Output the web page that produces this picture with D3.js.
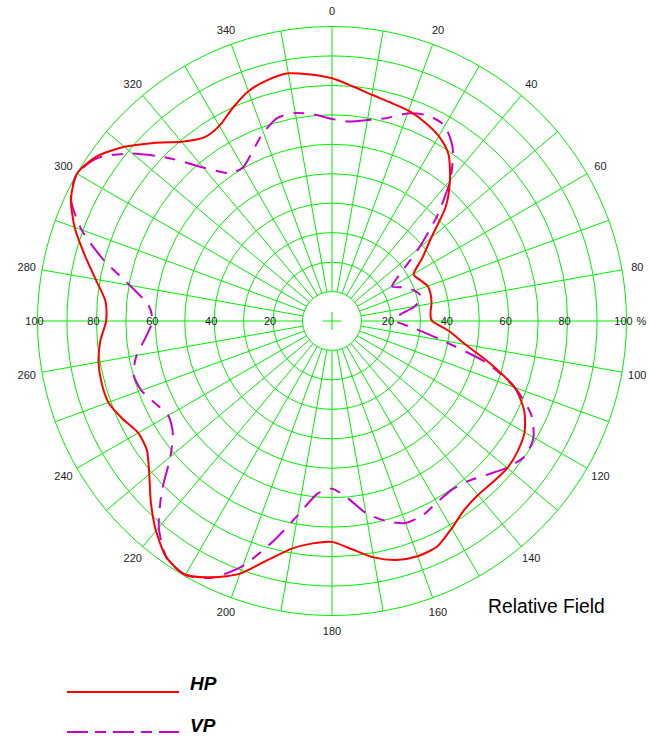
<!DOCTYPE html>
<html>
<head>
<meta charset="utf-8">
<script src="https://cdn.jsdelivr.net/npm/d3@7"></script>
<style>
  html, body { margin: 0; padding: 0; background: #fff; }
  svg { display: block; font-family: "Liberation Sans", Arial, sans-serif; }
</style>
</head>
<body>
<div id="chart"></div>
<script>
// 方位角（度，顺时针，0 在正上方）
const angles = [0, 5, 10, 15, 20, 25, 30, 35, 40, 45, 50, 55, 60, 65, 70, 75, 80, 85,
  90, 95, 100, 105, 110, 115, 120, 125, 130, 135, 140, 145, 150, 155, 160, 165, 170, 175,
  180, 185, 190, 195, 200, 205, 210, 215, 220, 225, 230, 235, 240, 245, 250, 255, 260, 265,
  270, 275, 280, 285, 290, 295, 300, 305, 310, 315, 320, 325, 330, 335, 340, 345, 350, 355];

// 水平极化 HP（相对场强 %）
const hpValues = [82.4, 80, 78, 76.8, 76, 74.5, 72.5, 69, 62.3, 54.5, 44, 37.5, 32, 33, 34.6, 34.7, 34.3, 33.6,
  34, 40, 46, 55.5, 66, 72, 75.5, 77, 77.7, 77.3, 77.1, 78.3, 81.3, 84.5, 85, 84, 81.5, 77.8,
  75, 75.8, 78.5, 84, 91.3, 96, 99.5, 98, 93, 87, 81, 76.7, 76, 78.5, 80.8, 81, 80.5, 79,
  76.7, 77.2, 81.5, 87, 93, 97.8, 100, 97.5, 92, 85.5, 79.5, 76, 76.5, 79.8, 83, 84.7, 85.4, 84];

// 垂直极化 VP（相对场强 %）
const vpValues = [68.6, 68, 69.3, 71.3, 75, 77, 76.5, 71.5, 62.5, 50.5, 38.5, 28.6, 23.5, 27, 30, 31.5, 28.5, 23,
  21.5, 28, 38, 54, 66, 74.5, 79, 80, 77.5, 74, 71.2, 70.3, 71.2, 72.8, 73, 70.3, 66.2, 60.3,
  57, 59, 67, 77.5, 88.5, 96.2, 99.5, 98, 91.5, 81.7, 71.6, 66, 64.2, 66.2, 68.9, 69.8, 67.4, 63.5,
  61, 62.6, 69.7, 80.3, 90.5, 97.8, 100, 96.7, 88.5, 78.2, 68, 61.3, 60.3, 63.7, 68.1, 71.4, 71.7, 70.4];

// 网格与刻度
const ringValues = [10, 20, 30, 40, 50, 60, 70, 80, 90, 100];
const radialLabels = [20, 40, 60, 80, 100];
const spokeAngles = d3.range(0, 360, 10);
const angleLabels = d3.range(0, 360, 20);

const seriesNames = ['HP', 'VP'];

const width = 651, height = 738;
const cx = 332, cy = 321;
const R = 294.5;

const svg = d3.select('#chart').append('svg')
  .attr('width', width)
  .attr('height', height);

const r = d3.scaleLinear().domain([0, 100]).range([0, R]);
const rad = d => d * Math.PI / 180;

const g = svg.append('g').attr('transform', `translate(${cx},${cy})`);

// 放射线
g.selectAll('line.spoke')
  .data(spokeAngles)
  .enter().append('line')
  .attr('class', 'spoke')
  .attr('x1', d => r(10) * Math.sin(rad(d)))
  .attr('y1', d => -r(10) * Math.cos(rad(d)))
  .attr('x2', d => r(100) * Math.sin(rad(d)))
  .attr('y2', d => -r(100) * Math.cos(rad(d)))
  .attr('stroke', '#00f000')
  .attr('stroke-width', 1);

// 同心圆
g.selectAll('circle.ring')
  .data(ringValues)
  .enter().append('circle')
  .attr('class', 'ring')
  .attr('r', d => r(d))
  .attr('fill', d => d === 10 ? '#fff' : 'none')
  .attr('stroke', '#00f000')
  .attr('stroke-width', 1);

// 中心十字
g.append('line').attr('x1', -9).attr('x2', 9).attr('y1', 0).attr('y2', 0)
  .attr('stroke', '#00f000');
g.append('line').attr('x1', 0).attr('x2', 0).attr('y1', -9).attr('y2', 9)
  .attr('stroke', '#00f000');

// 径向刻度标签（左右两侧）
const tickFont = 11;
[-1, 1].forEach(side => {
  g.selectAll(null)
    .data(radialLabels)
    .enter().append('text')
    .attr('x', d => side * r(d) - 3)
    .attr('y', 4)
    .attr('text-anchor', 'middle')
    .style('font-size', tickFont + 'px')
    .style('fill', '#222')
    .text(d => d);
});
g.append('text')
  .attr('x', r(100) + 10)
  .attr('y', 4)
  .style('font-size', tickFont + 'px')
  .style('fill', '#222')
  .text('%');

// 角度标签
g.selectAll('text.ang')
  .data(angleLabels)
  .enter().append('text')
  .attr('class', 'ang')
  .attr('x', d => 310 * Math.sin(rad(d)))
  .attr('y', d => -310 * Math.cos(rad(d)) + 4)
  .attr('text-anchor', 'middle')
  .style('font-size', tickFont + 'px')
  .style('fill', '#222')
  .text(d => d);

// 曲线
const line = d3.lineRadial()
  .angle(d => rad(d[0]))
  .radius(d => r(d[1]))
  .curve(d3.curveCardinalClosed.tension(0.3));

g.append('path')
  .datum(d3.zip(angles, vpValues))
  .attr('d', line)
  .attr('fill', 'none')
  .attr('stroke', '#cc00cc')
  .attr('stroke-width', 2)
  .attr('stroke-dasharray', '22,10,11,10');

g.append('path')
  .datum(d3.zip(angles, hpValues))
  .attr('d', line)
  .attr('fill', 'none')
  .attr('stroke', '#ff0000')
  .attr('stroke-width', 2);

// 标题
svg.append('text')
  .attr('x', 488)
  .attr('y', 613)
  .style('font-size', '19.3px')
  .style('fill', '#000')
  .text('Relative Field');

// 图例
const legend = [
  { name: seriesNames[0], color: '#ff0000', dash: null, y: 692, ty: 690 },
  { name: seriesNames[1], color: '#cc00cc', dash: '21,7,11,7', y: 732, ty: 732 }
];
legend.forEach(l => {
  svg.append('line')
    .attr('x1', 67).attr('x2', 179)
    .attr('y1', l.y).attr('y2', l.y)
    .attr('stroke', l.color)
    .attr('stroke-width', 2)
    .attr('stroke-dasharray', l.dash);
  svg.append('text')
    .attr('x', 190)
    .attr('y', l.ty)
    .style('font-size', '19px')
    .style('font-weight', 'bold')
    .style('font-style', 'italic')
    .style('fill', '#000')
    .text(l.name);
});
</script>
</body>
</html>
